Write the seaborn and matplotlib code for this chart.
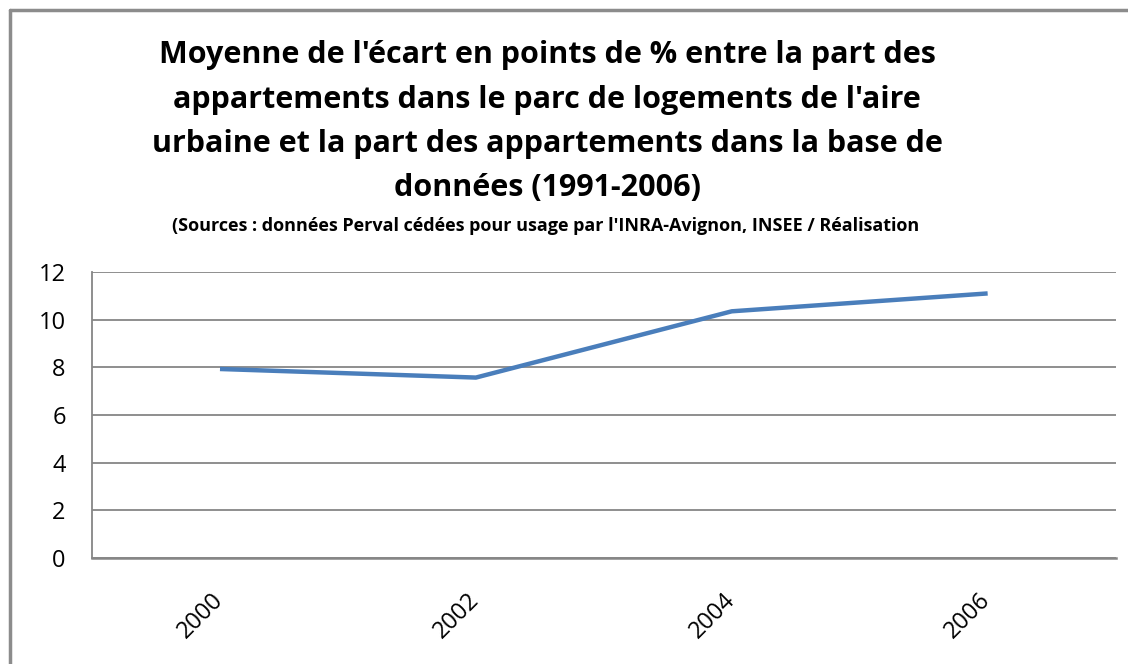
import matplotlib
matplotlib.use("Agg")
import matplotlib.pyplot as plt
from matplotlib.lines import Line2D
from matplotlib.transforms import ScaledTranslation
import seaborn as sns
import pandas as pd

# Data
years = ["2000", "2002", "2004", "2006"]
ecart_moyen = [7.93, 7.57, 10.35, 11.1]
y_ticks = [0, 2, 4, 6, 8, 10, 12]

title_lines = [
    "Moyenne de l'écart en points de % entre la part des",
    "appartements dans le parc de logements de l'aire",
    "urbaine et la part des appartements dans la base de",
    "données (1991-2006)",
]
subtitle = ("(Sources : données Perval cédées pour usage par l'INRA-Avignon, "
            "INSEE / Réalisation")

sns.set_theme(style="white")
plt.rcParams["font.family"] = ["Open Sans", "DejaVu Sans"]

df = pd.DataFrame({"annee": years, "ecart": ecart_moyen})

fig = plt.figure(figsize=(11.28, 6.64), dpi=100)
ax = fig.add_axes([0.0816, 0.1596, 0.9074, 0.4308])

sns.lineplot(data=df, x="annee", y="ecart", ax=ax, sort=False,
             color="#4A7EBB", linewidth=3.2, solid_capstyle="butt", zorder=3)

ax.set_xlim(-0.5, len(years) - 0.5)
ax.set_ylim(0, 12)
ax.set_yticks(y_ticks)
ax.set_yticklabels([str(t) for t in y_ticks])
ax.yaxis.grid(True, color="#868686", linewidth=1.3)
ax.xaxis.grid(False)

for side in ["top", "right"]:
    ax.spines[side].set_visible(False)
ax.spines["left"].set_color("#868686")
ax.spines["left"].set_linewidth(1.3)
ax.spines["bottom"].set_color("#868686")
ax.spines["bottom"].set_linewidth(1.8)

ax.set_xlabel("")
ax.set_ylabel("")
ax.tick_params(axis="y", labelsize=17, pad=19, colors="black", length=0)
ax.tick_params(axis="x", labelsize=17, pad=22, colors="black", length=0)
shift = ScaledTranslation(-9 / 100, 0, fig.dpi_scale_trans)
for lbl in ax.get_xticklabels():
    lbl.set_rotation(45)
    lbl.set_ha("right")
    lbl.set_va("top")
    lbl.set_rotation_mode("anchor")
    lbl.set_transform(lbl.get_transform() + shift)

# Title, one line at a time
title_y = [55, 100, 144, 188]
for line, ypix in zip(title_lines, title_y):
    fig.text(0.485, 1 - ypix / 664, line, ha="center", va="center",
             fontsize=22, fontweight="bold", color="black")
fig.text(0.484, 1 - 226 / 664, subtitle, ha="center", va="center",
         fontsize=13, fontweight="bold", color="black")

# Chart frame (left and top edges)
fig.add_artist(Line2D([0.0093, 0.0093], [0.0, 0.985], transform=fig.transFigure,
                      color="#8C8C8C", linewidth=2.5))
fig.add_artist(Line2D([0.0093, 1.0], [0.985, 0.985], transform=fig.transFigure,
                      color="#8C8C8C", linewidth=2.5))

fig.savefig("out.png", dpi=100, facecolor="white")
